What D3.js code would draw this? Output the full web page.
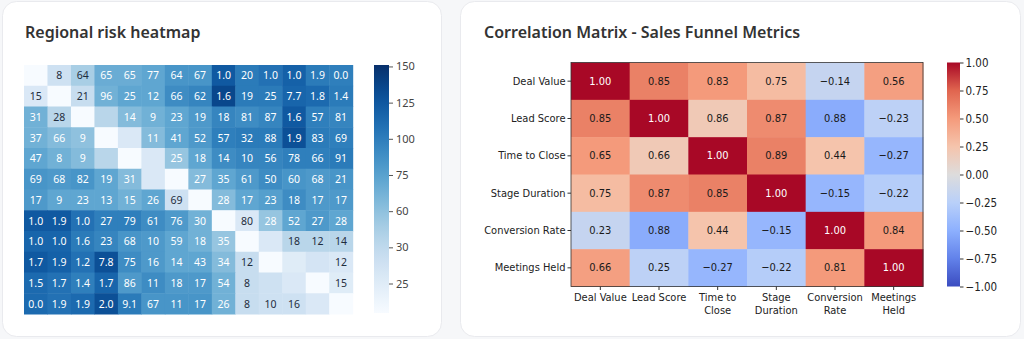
<!DOCTYPE html>
<html><head><meta charset="utf-8">
<script src="https://cdn.jsdelivr.net/npm/d3@7"></script>
<style>
body{margin:0;background:#f6f7f9;}
svg{display:block}
</style></head><body>
<svg id="c" width="1024" height="339"></svg>
<script>
// ---------- Left chart data ----------
const riskTitle = "Regional risk heatmap";
const riskValues = [
  [21,28,46,70,70,73,84,84,124,102,108,119,102,99],
  [26,21,29,68,73,73,90,95,136,102,102,116,113,102],
  [68,35,21,35,63,68,73,81,95,90,95,124,99,95],
  [68,63,60,21,26,63,73,81,99,102,102,130,102,99],
  [73,68,63,35,21,26,56,73,90,95,95,99,99,102],
  [84,81,84,73,63,26,21,63,73,81,90,84,81,84],
  [81,73,73,73,68,73,28,21,63,73,77,90,81,81],
  [124,124,108,99,99,90,81,68,21,26,56,73,81,73],
  [116,116,102,95,84,81,73,68,56,21,26,35,35,35],
  [124,119,108,130,90,81,73,73,63,29,21,25,27,26],
  [113,108,99,116,81,90,81,81,68,29,28,26,21,25],
  [113,108,113,130,102,84,84,84,68,29,28,28,26,21]
];
const riskLabels = [
  ["","8","64","65","65","77","64","67","1.0","20","1.0","1.0","1.9","0.0"],
  ["15","","21","96","25","12","66","62","1.6","19","25","7.7","1.8","1.4"],
  ["31","28","","","14","9","23","19","18","81","87","1.6","57","81"],
  ["37","66","9","","","11","41","52","57","32","88","1.9","83","69"],
  ["47","8","9","","","","25","18","14","10","56","78","66","91"],
  ["69","68","82","19","31","","","27","35","61","50","60","68","21"],
  ["17","9","23","13","15","26","69","","28","17","23","18","17","17"],
  ["1.0","1.9","1.0","27","79","61","76","30","","80","28","52","27","28"],
  ["1.0","1.0","1.6","23","68","10","59","18","35","","","18","12","14"],
  ["1.7","1.9","1.2","7.8","75","16","14","43","34","12","","","","12"],
  ["1.5","1.7","1.4","1.7","86","11","18","17","54","8","","","","15"],
  ["0.0","1.9","1.9","2.0","9.1","67","11","17","26","8","10","16","",""]
];
const riskStops = [21,25,30,60,75,100,125,150];
const riskTicks = [150,125,100,75,60,30,25];

// ---------- Right chart data ----------
const corrTitle = "Correlation Matrix - Sales Funnel Metrics";
const corrMetrics = ["Deal Value","Lead Score","Time to Close","Stage Duration","Conversion Rate","Meetings Held"];
const corrXLabels = ["Deal Value","Lead Score","Time to\nClose","Stage\nDuration","Conversion\nRate","Meetings\nHeld"];
const corrText = [
  [1.00,0.85,0.83,0.75,-0.14,0.56],
  [0.85,1.00,0.86,0.87,0.88,-0.23],
  [0.65,0.66,1.00,0.89,0.44,-0.27],
  [0.75,0.87,0.85,1.00,-0.15,-0.22],
  [0.23,0.88,0.44,-0.15,1.00,0.84],
  [0.66,0.25,-0.27,-0.22,0.81,1.00]
];
const corrShade = [
  [1.00,0.62,0.50,0.30,-0.17,0.47],
  [0.62,1.00,0.20,0.57,-0.52,-0.22],
  [0.50,0.20,1.00,0.62,0.25,-0.45],
  [0.30,0.57,0.62,1.00,-0.45,-0.27],
  [-0.17,-0.52,0.25,-0.45,1.00,0.50],
  [0.47,-0.22,-0.45,-0.27,0.50,1.00]
];
const corrTicks = [1,0.75,0.5,0.25,0,-0.25,-0.5,-0.75,-1];

// ---------- Drawing ----------
const svg = d3.select("#c");
const cards = [{x:2.5,y:1.5,w:439,h:335},{x:460.5,y:1.5,w:560,h:335}];
svg.selectAll("rect.card").data(cards).join("rect").attr("class","card")
  .attr("x",d=>d.x).attr("y",d=>d.y).attr("width",d=>d.w).attr("height",d=>d.h)
  .attr("rx",14).attr("fill","#fff").attr("stroke","#e9eaee");

const titleFont = "'Noto Sans', sans-serif";
svg.append("text").attr("x",25).attr("y",38).text(riskTitle)
  .attr("font-family",titleFont).attr("font-size",16).attr("font-weight",600).attr("fill","#333");
svg.append("text").attr("x",484).attr("y",38).text(corrTitle)
  .attr("font-family",titleFont).attr("font-size",16).attr("font-weight",600).attr("fill","#333");

// Left heatmap
const L = svg.append("g");
const nR = riskValues.length, nC = riskValues[0].length;
const xL = d3.scaleBand().domain(d3.range(nC)).range([24,352.7]);
const yL = d3.scaleBand().domain(d3.range(nR)).range([65,314]);
const cbTop = 65, cbBot = 313;
const unit = (cbBot-cbTop)/6.855;
const tickY = v => {
  const asc = riskStops.slice(1);
  const i = asc.indexOf(v);
  return cbBot - (0.815 + i)*unit;
};
const posScale = d3.scaleLinear().domain(riskStops)
  .range(riskStops.map((v,i)=> i===0 ? cbBot : tickY(v))).clamp(true);
const riskColor = v => d3.interpolateBlues((cbBot - posScale(v))/(cbBot-cbTop));

const cells = [];
riskValues.forEach((row,r)=>row.forEach((v,c)=>cells.push({r,c,v,l:riskLabels[r][c]})));
L.selectAll("rect.cell").data(cells).join("rect")
  .attr("x",d=>xL(d.c)).attr("y",d=>yL(d.r))
  .attr("width",xL.bandwidth()+0.5).attr("height",yL.bandwidth()+0.5)
  .attr("fill",d=>riskColor(d.v));
L.selectAll("text.cl").data(cells).join("text")
  .attr("x",d=>xL(d.c)+xL.bandwidth()/2).attr("y",d=>yL(d.r)+yL.bandwidth()/2)
  .attr("text-anchor","middle").attr("dominant-baseline","central")
  .attr("font-family","'Noto Sans', sans-serif").attr("font-size",10.5)
  .attr("fill",d=>d.v>=55?"#ffffff":"#1f2d3d")
  .text(d=>d.l);

// Left colorbar
const defs = svg.append("defs");
const gradL = defs.append("linearGradient").attr("id","gL").attr("x1",0).attr("y1",1).attr("x2",0).attr("y2",0);
d3.range(0,1.0001,0.05).forEach(t=>gradL.append("stop").attr("offset",t).attr("stop-color",d3.interpolateBlues(t)));
L.append("rect").attr("x",374).attr("y",cbTop).attr("width",15).attr("height",cbBot-cbTop).attr("fill","url(#gL)");
const cbAxisL = d3.axisRight(posScale).tickValues(riskTicks).tickSize(4).tickPadding(3);
const gAxL = L.append("g").attr("transform","translate(389,0)").call(cbAxisL);
gAxL.select(".domain").remove();
gAxL.selectAll("line").attr("stroke","#555");
gAxL.selectAll("text").attr("font-family","'Noto Sans', sans-serif").attr("font-size",11).attr("fill","#444");

// Right heatmap
const R = svg.append("g");
const xR = d3.scaleBand().domain(d3.range(6)).range([571,923]);
const yR = d3.scaleBand().domain(d3.range(6)).range([62.5,286.5]);
const cw = ["#3b4cc0","#6282ea","#8db0fe","#b9d0f9","#dddcdc","#f5c4ac","#f49a7b","#e0654f","#a80826"];
const corrColor = d3.scaleLinear().domain(d3.range(9).map(i=>-1+i*0.25)).range(cw).interpolate(d3.interpolateRgb);
const cc = [];
corrShade.forEach((row,r)=>row.forEach((v,c)=>cc.push({r,c,v,t:corrText[r][c]})));
R.selectAll("rect.cc").data(cc).join("rect")
  .attr("x",d=>xR(d.c)).attr("y",d=>yR(d.r))
  .attr("width",xR.bandwidth()+0.5).attr("height",yR.bandwidth()+0.5)
  .attr("fill",d=>corrColor(d.v));
const corrFont = "'DejaVu Sans Condensed', 'DejaVu Sans', sans-serif";
R.selectAll("text.ct").data(cc).join("text")
  .attr("x",d=>xR(d.c)+xR.bandwidth()/2).attr("y",d=>yR(d.r)+yR.bandwidth()/2)
  .attr("text-anchor","middle").attr("dominant-baseline","central")
  .attr("font-family",corrFont).attr("font-stretch","condensed").attr("font-size",11)
  .attr("fill",d=>d.v>0.8?"#ffffff":"#1a1a1a")
  .text(d=>d3.format(".2f")(d.t));
R.append("rect").attr("x",571).attr("y",62.5).attr("width",352).attr("height",224)
  .attr("fill","none").attr("stroke","#333").attr("stroke-width",0.8);

const yAx = d3.axisLeft(d3.scaleBand().domain(corrMetrics).range([62.5,286.5])).tickSize(3.5).tickPadding(2);
const gy = R.append("g").attr("transform","translate(571,0)").call(yAx);
gy.select(".domain").remove();
gy.selectAll("text").attr("font-family",corrFont).attr("font-stretch","condensed").attr("font-size",11).attr("fill","#222");
gy.selectAll("line").attr("stroke","#333");
const xAx = d3.axisBottom(d3.scaleBand().domain(corrXLabels).range([571,923])).tickSize(3.5).tickPadding(3.5);
const gx = R.append("g").attr("transform","translate(0,286.5)").call(xAx);
gx.select(".domain").remove();
gx.selectAll("line").attr("stroke","#333");
gx.selectAll("text").each(function(d){
  const t = d3.select(this).text("");
  d.split("\n").forEach((s,i)=>t.append("tspan").attr("x",0).attr("dy",i===0?"0.71em":"1.15em").text(s));
}).attr("font-family",corrFont).attr("font-stretch","condensed").attr("font-size",11).attr("fill","#222");

const gradR = defs.append("linearGradient").attr("id","gR").attr("x1",0).attr("y1",1).attr("x2",0).attr("y2",0);
cw.forEach((c,i)=>gradR.append("stop").attr("offset",i/8).attr("stop-color",c));
const yCb = d3.scaleLinear().domain([-1,1]).range([286.5,62.5]);
R.append("rect").attr("x",947).attr("y",62.5).attr("width",13).attr("height",224).attr("fill","url(#gR)");
const gcb = R.append("g").attr("transform","translate(960,0)")
  .call(d3.axisRight(yCb).tickValues(corrTicks).tickSize(3.5).tickPadding(2).tickFormat(d=>d3.format(".2f")(d).replace("-","\u2212")));
gcb.select(".domain").remove();
gcb.selectAll("line").attr("stroke","#333");
gcb.selectAll("text").attr("font-family",corrFont).attr("font-stretch","condensed").attr("font-size",11.5).attr("fill","#222");
</script></body></html>
